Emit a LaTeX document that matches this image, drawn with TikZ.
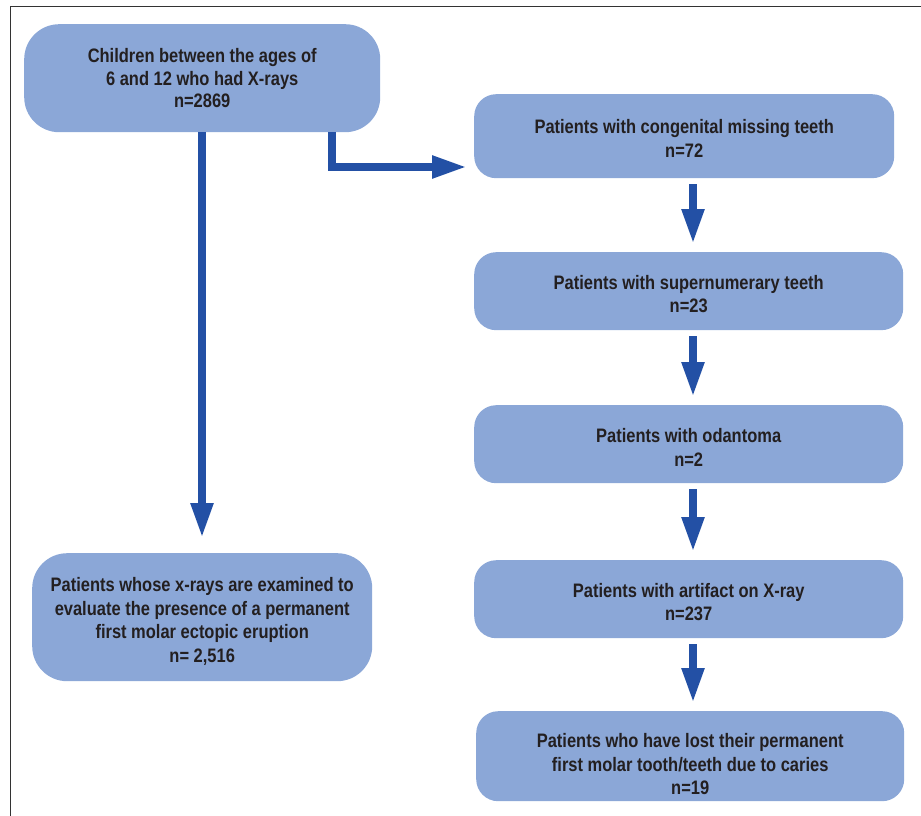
\documentclass[tikz,border=0pt]{standalone}
\usepackage{fontspec}
\setmainfont{Liberation Sans}[FakeStretch=0.845]
\usetikzlibrary{arrows.meta}
\definecolor{boxblue}{HTML}{8BA7D7}
\definecolor{arrblue}{HTML}{2350A5}
\definecolor{txtcol}{HTML}{231F20}
\newcommand\dnstrut[1]{\rule{0pt}{#1}}
\begin{document}
\begin{tikzpicture}[x=1pt,y=-1pt,
  box/.style={fill=boxblue, rounded corners=22pt, anchor=north west, inner sep=0pt,
    align=center, text=txtcol, font=\fontsize{19.5}{23.5}\selectfont\bfseries},
  bigbox/.style={box, rounded corners=35pt},
  arr/.style={draw=arrblue, line width=8pt, line join=miter,
    -{Triangle[length=35pt,width=21pt]}, shorten <=6pt, shorten >=8pt}]
\useasboundingbox (0,0) rectangle (921,816);
\draw[line width=1.3pt, draw=black!80] (10.5,816) -- (10.5,6.5) -- (921,6.5);

\node[bigbox, minimum width=356pt, minimum height=108pt,
  font=\fontsize{19.5}{22.5}\selectfont\bfseries] (top) at (24,24)
  {Children between the ages of\\6 and 12 who had X-rays\\n=2869};
\node[bigbox, minimum width=340pt, minimum height=128pt] (res) at (32,553)
  {\dnstrut{22.3pt}Patients whose x-rays are examined to\\evaluate the presence of a permanent\\first molar ectopic eruption\\n= 2,516};
\node[box, minimum width=420pt, minimum height=84pt] (b1) at (474,94)
  {\dnstrut{18.3pt}Patients with congenital missing teeth\\n=72};
\node[box, minimum width=429pt, minimum height=78pt] (b2) at (474,252)
  {\dnstrut{20.3pt}Patients with supernumerary teeth\\n=23};
\node[box, minimum width=429pt, minimum height=78pt] (b3) at (474,405)
  {\dnstrut{20.3pt}Patients with odantoma\\n=2};
\node[box, minimum width=429pt, minimum height=78pt] (b4) at (474,560)
  {\dnstrut{20.3pt}Patients with artifact on X-ray\\n=237};
\node[box, minimum width=428pt, minimum height=90pt] (b5) at (476,711)
  {\dnstrut{30.3pt}Patients who have lost their permanent\\first molar tooth/teeth due to caries\\n=19};

\coordinate (lx) at (202,0);
\coordinate (ex) at (332,167);
\coordinate (rx) at (693,0);

\draw[arr, shorten <=0pt, shorten >=15pt] (top.south -| lx) -- (res.north -| lx);
\draw[arr, shorten <=0pt, shorten >=7pt] (top.south -| ex) |- (b1.west |- ex);
\draw[arr] (b1.south -| rx) -- (b2.north -| rx);
\draw[arr] (b2.south -| rx) -- (b3.north -| rx);
\draw[arr] (b3.south -| rx) -- (b4.north -| rx);
\draw[arr] (b4.south -| rx) -- (b5.north -| rx);
\end{tikzpicture}
\end{document}
